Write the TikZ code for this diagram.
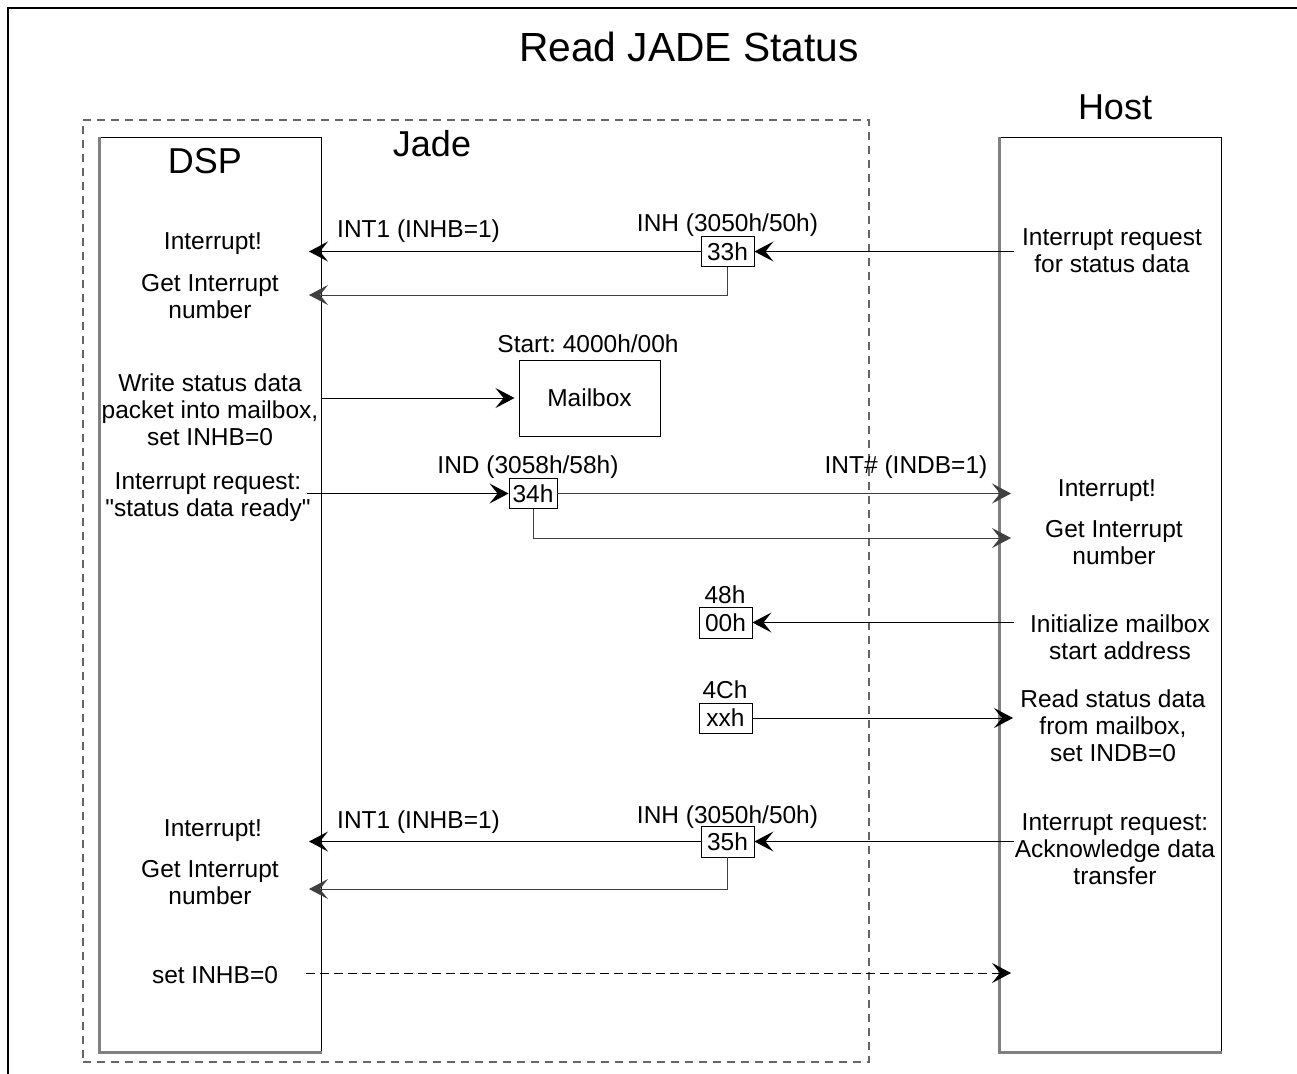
\documentclass[tikz,border=0pt]{standalone}
\usepackage{fontspec}
\setmainfont{Liberation Sans}
\usetikzlibrary{arrows.meta}
\begin{document}
\begin{tikzpicture}[x=1pt,y=-1pt,
  txt/.style={font=\fontsize{24.5}{27}\selectfont\frenchspacing, align=center, inner sep=0pt, anchor=base},
  lbl/.style={font=\fontsize{24.5}{27}\selectfont\frenchspacing, inner sep=0pt},
  hdr/.style={font=\fontsize{36}{40}\selectfont, inner sep=0pt, anchor=base},
  reg/.style={draw, line width=0.9pt, font=\fontsize{24.5}{27}\selectfont, inner sep=0pt, minimum width=53pt, minimum height=30pt},
  lane/.style={draw, line width=1pt, inner sep=0pt, minimum width=221pt, minimum height=915pt},
  shade/.style={draw=black!50, line width=2.5pt},
  arr/.style={-{Stealth[length=19pt,width=20pt,inset=8pt]}, line width=1pt},
  garr/.style={arr, draw=black!75}
]
\useasboundingbox (0,0) rectangle (1297,1073);
\fill[white] (0,0) rectangle (1297,1073);
% outer frame
\draw[line width=2pt] (8,1090) -- (8,8) -- (1310,8);
% title
\node[anchor=base, inner sep=0pt, font=\fontsize{40.7}{44}\selectfont] (title) at (689,61.5) {Read JADE Status};
% Jade dashed area
\node[draw=black!60, dash pattern=on 8pt off 6pt, line width=1.2pt, inner sep=0pt, minimum width=786pt, minimum height=942pt] (jade) at (476,591) {};
% lanes
\node[lane] (dsp) at (210.5,594.5) {};
\node[lane] (host) at (1110.5,594.5) {};
\draw[shade] (dsp.north west) -- (dsp.south west) -- (dsp.south east);
\draw[shade] (host.north west) -- (host.south west) -- (host.south east);
\node[hdr] (dsplbl) at (205,173) {DSP};
\node[hdr] (jadelbl) at (432,156) {Jade};
\node[hdr] (hostlbl) at (1115,119) {Host};

% DSP texts (anchor base = last line baseline)
\node[txt] (dint1) at (213,249) {Interrupt!};
\node[txt] (dget1) at (210,318) {Get Interrupt\\number};
\node[txt] (dwrite) at (210,445) {Write status data\\packet into mailbox,\\set INHB=0};
\node[txt] (dreq) at (208,516) {Interrupt request:\\\textquotedbl status data ready\textquotedbl};
\node[txt] (dint2) at (213,836) {Interrupt!};
\node[txt] (dget2) at (210,904) {Get Interrupt\\number};
\node[txt] (dset) at (215,983) {set INHB=0};

% Host texts
\node[txt] (hreq1) at (1112,272) {Interrupt request\\for status data};
\node[txt] (hint) at (1107,496) {Interrupt!};
\node[txt] (hget) at (1114,564) {Get Interrupt\\number};
\node[txt] (hinit) at (1120,659) {Initialize mailbox\\start address};
\node[txt] (hread) at (1113,761) {Read status data\\from mailbox,\\set INDB=0};
\node[txt] (hreq2) at (1115,884) {Interrupt request:\\Acknowledge data\\transfer};

% registers
\node[reg] (r33) at (727.5,251.5) {33h};
\node[reg, minimum width=48pt] (r34) at (533,493.5) {34h};
\node[reg, minimum height=31pt] (r00) at (725.5,622.5) {00h};
\node[reg] (rxx) at (725.5,718) {xxh};
\node[reg, minimum height=31pt] (r35) at (727.5,841.5) {35h};
\node[draw, line width=1pt, inner sep=0pt, minimum width=141pt, minimum height=76pt, font=\fontsize{24.5}{27}\selectfont] (mb) at (589.5,398) {Mailbox};

% register labels
\node[lbl, anchor=base west] (int1a) at (337,237) {INT1 (INHB=1)};
\node[lbl, anchor=base] (inha) at (727.5,231) {INH (3050h/50h)};
\node[lbl, anchor=base] (start) at (588,352) {Start: 4000h/00h};
\node[lbl, anchor=base] (ind) at (528,473) {IND (3058h/58h)};
\node[lbl, anchor=base] (intd) at (906,473) {INT\# (INDB=1)};
\node[lbl, anchor=base] (l48) at (725,603) {48h};
\node[lbl, anchor=base] (l4c) at (725,698) {4Ch};
\node[lbl, anchor=base west] (int1b) at (337,828) {INT1 (INHB=1)};
\node[lbl, anchor=base] (inhb) at (727.5,823) {INH (3050h/50h)};

% connector end points
\coordinate (h1) at (1014,251.5);
\coordinate (d1) at (309,251.5);
\coordinate (d2) at (309,295);
\coordinate (w1) at (321,398);
\coordinate (q1) at (307,493.5);
\coordinate (h2) at (1011,493.5);
\coordinate (h3) at (1011,538);
\coordinate (h4) at (1014,622.5);
\coordinate (h5) at (1013,718);
\coordinate (h6) at (1014,841.5);
\coordinate (d3) at (309,841.5);
\coordinate (d4) at (309,889);
\coordinate (s1) at (306,973);
\coordinate (s2) at (1011,973);

% connectors
\draw[arr] (h1) -- (r33.east);
\draw[arr] (r33.west) -- (d1);
\draw[garr] (r33.south) |- (d2);
\draw[arr, shorten >=4pt] (w1) -- (mb.west);
\draw[arr] (q1) -- (r34.west);
\draw[garr] (r34.east) -- (h2);
\draw[garr] (r34.south) |- (h3);
\draw[arr] (h4) -- (r00.east);
\draw[arr] (rxx.east) -- (h5);
\draw[arr] (h6) -- (r35.east);
\draw[arr] (r35.west) -- (d3);
\draw[garr] (r35.south) |- (d4);
\draw[arr, dash pattern=on 9pt off 5pt] (s1) -- (s2);
\end{tikzpicture}
\end{document}
